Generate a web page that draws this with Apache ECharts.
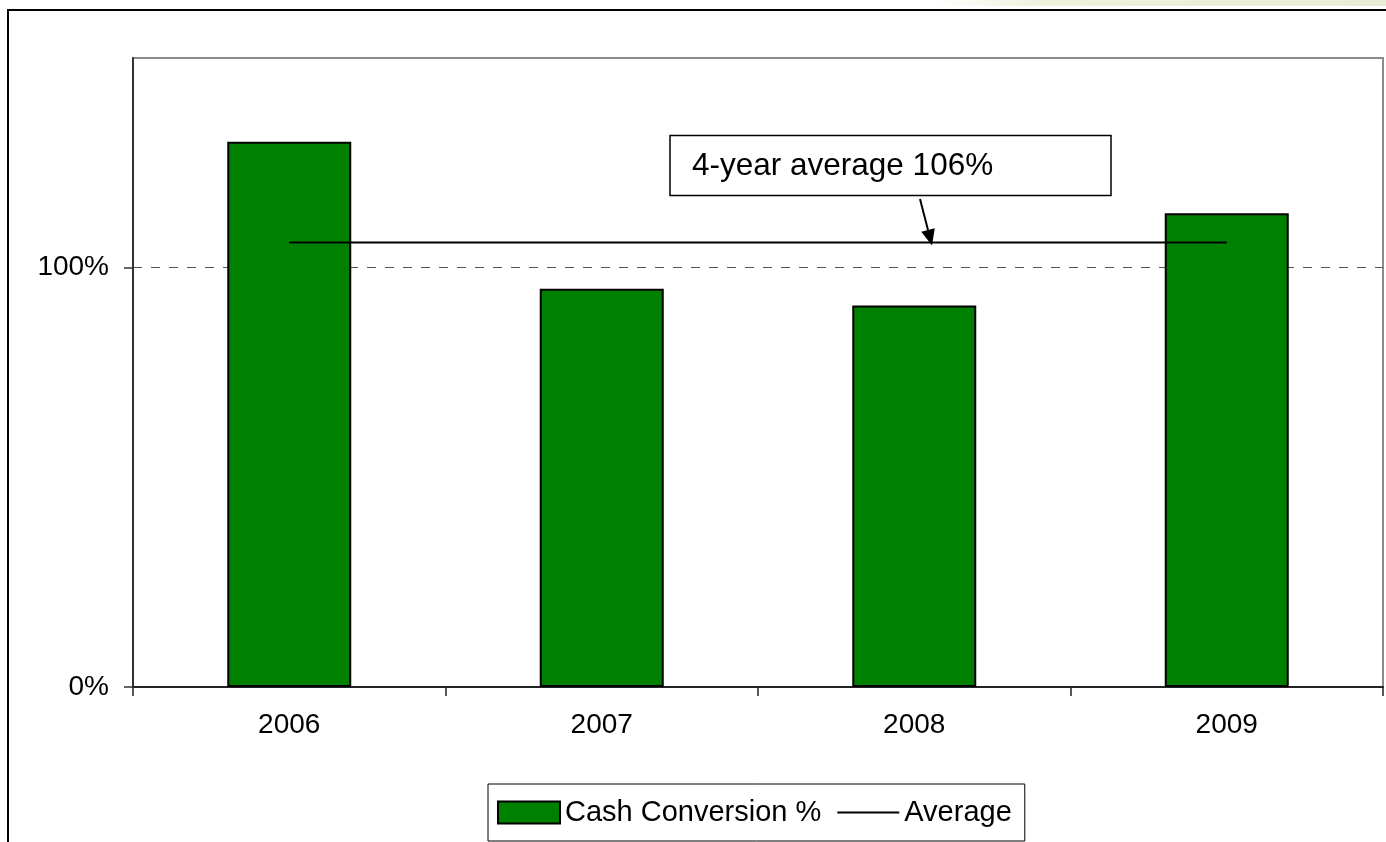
<!DOCTYPE html>
<html>
<head>
<meta charset="utf-8">
<title>Cash Conversion</title>
<script src="https://cdn.jsdelivr.net/npm/echarts@6/dist/echarts.min.js"></script>
<style>
  html, body { margin: 0; padding: 0; background: #fff; }
  #chart { width: 1386px; height: 842px; }
</style>
</head>
<body>
<div id="chart"></div>
<script>
// Yearly cash conversion, in percent
const years = ['2006', '2007', '2008', '2009'];
const cashConversion = [130, 95, 91, 113];
// Four-year average, in percent
const average = 106;
const averageLine = [average, average, average, average];
const calloutText = '4-year average 106%';

const FONT = '"Liberation Sans", Arial, sans-serif';

const chart = echarts.init(document.getElementById('chart'), null, { renderer: 'canvas' });

const option = {
  backgroundColor: '#ffffff',
  animation: false,
  textStyle: { fontFamily: FONT },
  grid: {
    left: 133, right: 3, top: 58, bottom: 155,
    show: true, borderColor: '#8c8c8c', borderWidth: 2,
    backgroundColor: 'transparent'
  },
  legend: {
    left: 488, top: 784,
    padding: [14, 13, 14, 9],
    borderColor: '#000', borderWidth: 1,
    itemWidth: 62, itemHeight: 22, itemGap: 16,
    symbolKeepAspect: true,
    textStyle: { fontSize: 29, color: '#000', fontFamily: FONT },
    data: [
      { name: 'Cash Conversion %', icon: 'rect' },
      { name: 'Average', icon: 'path://M0,0H62V2H0Z' }
    ]
  },
  xAxis: {
    type: 'category',
    data: years,
    boundaryGap: true,
    axisLine: { lineStyle: { color: '#222', width: 2 } },
    axisTick: { show: true, length: 9, lineStyle: { color: '#222', width: 1.5 } },
    axisLabel: { fontSize: 28, color: '#000', margin: 24, fontFamily: FONT },
    splitLine: { show: false }
  },
  yAxis: {
    type: 'value',
    min: 0, max: 150, interval: 100,
    axisLine: { show: true, lineStyle: { color: '#333', width: 2 } },
    axisTick: { show: true, length: 9, lineStyle: { color: '#333', width: 1.5 } },
    axisLabel: {
      fontSize: 28, color: '#000', margin: 24, fontFamily: FONT,
      showMaxLabel: false,
      formatter: v => (v === 150 ? '' : v + '%')
    },
    splitLine: {
      show: true,
      showMaxLine: false,
      showMinLine: false,
      lineStyle: { color: '#555', type: [9, 9], width: 1 }
    }
  },
  series: [
    {
      name: 'Cash Conversion %',
      type: 'bar',
      data: cashConversion,
      barWidth: 124,
      itemStyle: { color: '#008000', borderColor: '#000', borderWidth: 2 },
      z: 2
    },
    {
      name: 'Average',
      type: 'line',
      data: averageLine,
      symbol: 'none',
      lineStyle: { color: '#000', width: 2 },
      itemStyle: { color: '#000' },
      z: 3
    }
  ]
};

chart.setOption(option);

// Callout box with an arrow pointing down onto the average line
const tip = chart.convertToPixel({ gridIndex: 0 }, [0, average]);
const tipY = tip[1] + 3;
const tipX = 932;
const startX = 920, startY = 199;
const ang = Math.atan2(tipY - startY, tipX - startX);
const headLen = 16, headHalf = 7;
const bx = tipX - headLen * Math.cos(ang), by = tipY - headLen * Math.sin(ang);
const px = -Math.sin(ang), py = Math.cos(ang);

chart.setOption({
  graphic: [
    {
      type: 'rect', silent: true, z: 0,
      shape: { x: 930, y: 0, width: 456, height: 6 },
      style: {
        fill: new echarts.graphic.LinearGradient(0, 0, 1, 0, [
          { offset: 0, color: 'rgba(240,242,222,0)' },
          { offset: 0.25, color: '#eef1dc' },
          { offset: 1, color: '#e9ecd6' }
        ])
      }
    },
    {
      type: 'polyline', silent: true, z: 10,
      shape: { points: [[8, 842], [8, 10], [1386, 10]] },
      style: { stroke: '#000', lineWidth: 2, fill: null }
    },
    {
      type: 'rect', silent: true, z: 10,
      shape: { x: 670, y: 135.5, width: 441, height: 60 },
      style: { fill: '#fff', stroke: '#000', lineWidth: 1.5 }
    },
    {
      type: 'text', silent: true, z: 11,
      x: 692, y: 166,
      style: {
        text: calloutText,
        font: '31.5px ' + FONT,
        fill: '#000',
        verticalAlign: 'middle'
      }
    },
    {
      type: 'line', silent: true, z: 11,
      shape: { x1: startX, y1: startY, x2: bx, y2: by },
      style: { stroke: '#000', lineWidth: 2 }
    },
    {
      type: 'polygon', silent: true, z: 11,
      shape: {
        points: [
          [tipX, tipY],
          [bx + px * headHalf, by + py * headHalf],
          [bx - px * headHalf, by - py * headHalf]
        ]
      },
      style: { fill: '#000' }
    }
  ]
});
</script>
</body>
</html>
